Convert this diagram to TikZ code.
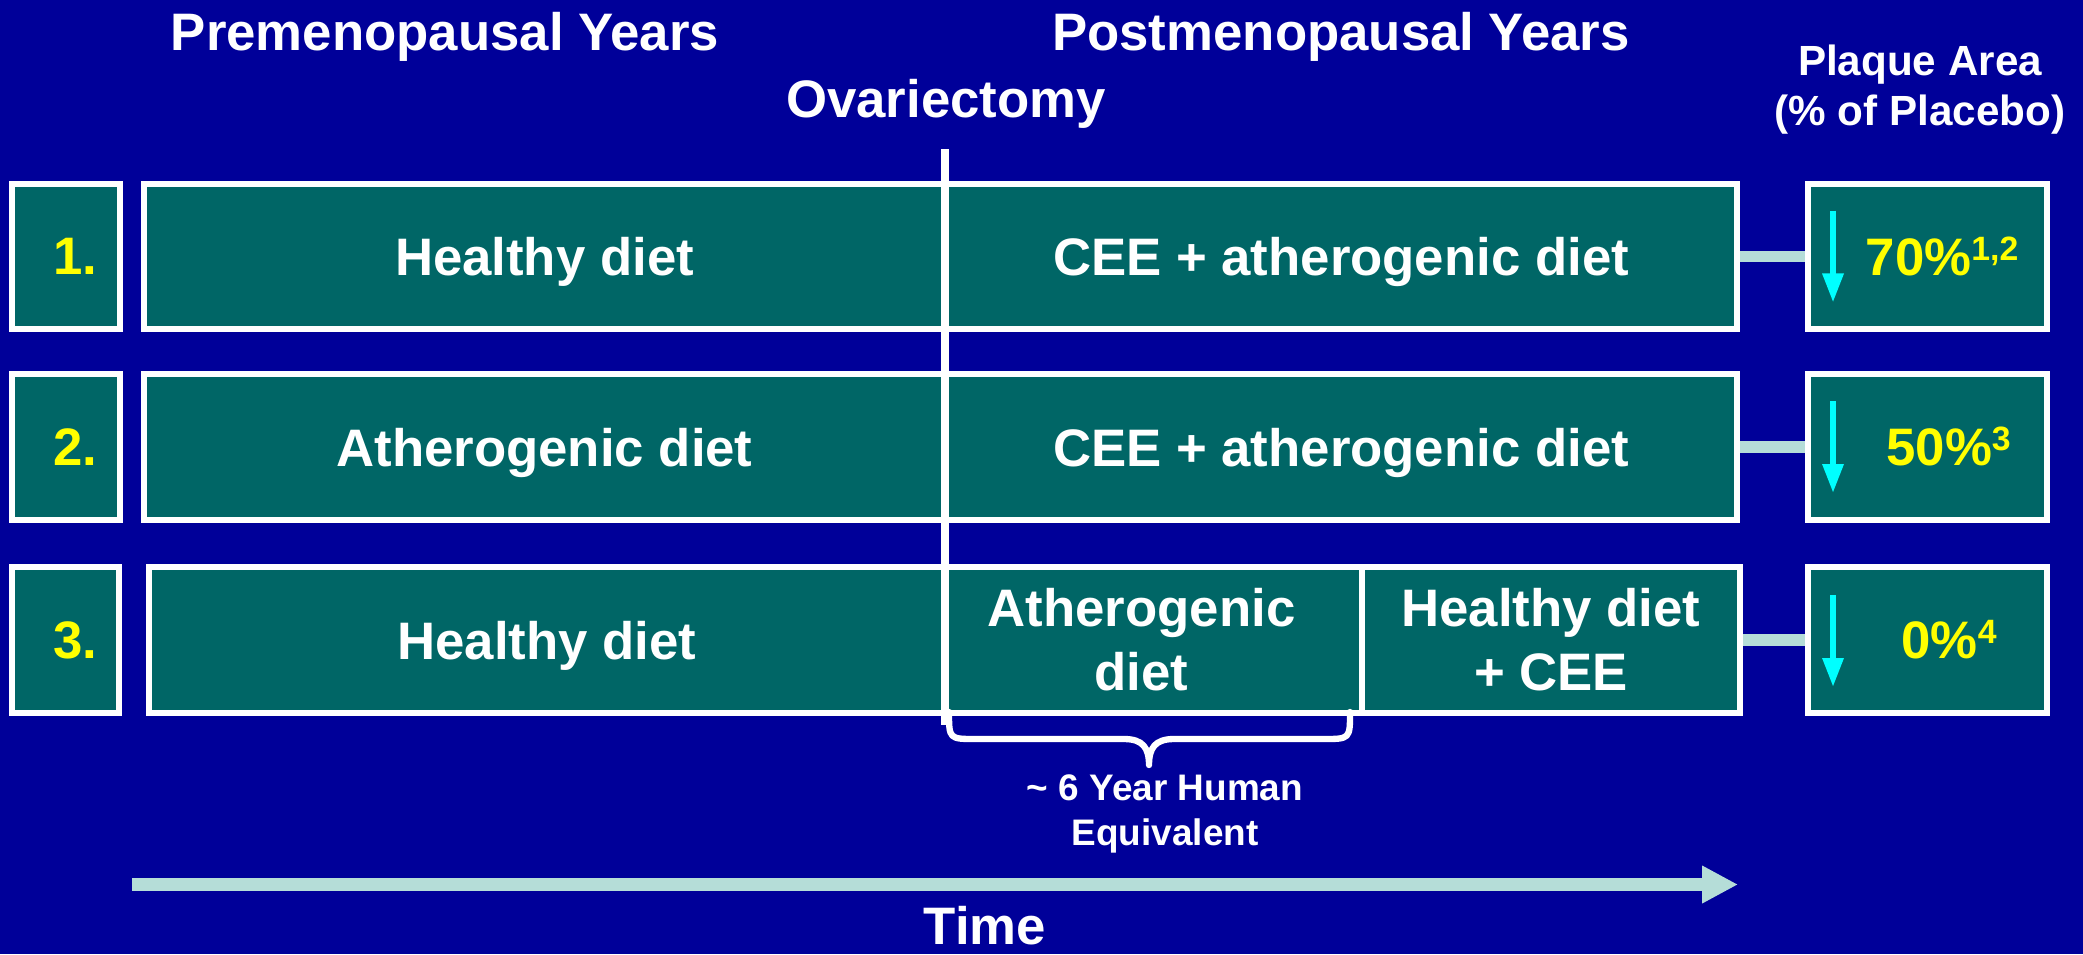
\documentclass[tikz,border=0pt]{standalone}
\usepackage{fontspec}
\setmainfont{Liberation Sans}
\usetikzlibrary{arrows.meta,calc}
\definecolor{bgblue}{RGB}{0,0,153}
\definecolor{cellteal}{RGB}{0,102,102}
\definecolor{lightc}{RGB}{181,221,216}
\definecolor{cyanc}{RGB}{0,255,255}
\definecolor{yellowc}{RGB}{255,255,0}
\newcommand\supnum[1]{\raisebox{4.3pt}{\fontsize{9.6}{10}\selectfont #1}}
\begin{document}
\begin{tikzpicture}[x=0.01cm,y=-0.01cm,
  cell/.style={draw=white, line width=1.71pt, fill=cellteal, inner sep=0pt,
    minimum height=1.45cm, text=white, font=\fontsize{15}{18.2}\selectfont\bfseries, align=center},
  onecell/.style={cell, text depth=0pt},
  numbox/.style={cell, minimum width=1.08cm},
  resbox/.style={cell, minimum width=2.39cm},
  numtxt/.style={text=yellowc, font=\fontsize{15}{18}\selectfont\bfseries, inner sep=0pt, text depth=0pt},
  valtxt/.style={text=yellowc, font=\fontsize{15}{18}\selectfont\bfseries, inner sep=0pt, text depth=0pt, text height=10.7pt},
  head/.style={text=white, font=\fontsize{15}{18}\selectfont\bfseries, inner sep=0pt, anchor=base},
  conn/.style={draw=lightc, line width=3.3pt},
  downarrow/.style={draw=cyanc, line width=1.7pt, -{Triangle[length=8.25pt,width=5.7pt]}},
  timearrow/.style={draw=lightc, line width=3.6pt, -{Triangle[length=10.2pt,width=10pt]}},
  ovline/.style={draw=white, line width=2.28pt},
  bracestyle/.style={draw=white, line width=1.8pt, line cap=round, line join=round}
]
\useasboundingbox (0,0) rectangle (2083,954);
\fill[bgblue] (0,0) rectangle (2083,954);

% headings
\node[head] (pre) at (445,50) {Premenopausal Years};
\node[head] (post) at (1341,50) {Postmenopausal Years};
\node[head] (ov) at (946,117) {Ovariectomy};
\node[text=white, font=\fontsize{12}{14.2}\selectfont\bfseries, align=center, inner sep=0pt] (plaque) at (1920,90) {Plaque Area\\(\% of Placebo)};

% row 1
\node[numbox] (n1) at (66,256.5) {};
\node[numtxt] (l1) at (75,256.5) {1.};
\node[onecell, minimum width=8.01cm] (r1a) at (544.5,256.5) {Healthy diet};
\node[onecell, minimum width=7.92cm] (r1b) at (1341,256.5) {CEE + atherogenic diet};
\node[resbox] (res1) at (1927.5,256.5) {};

% row 2
\node[numbox] (n2) at (66,447) {};
\node[numtxt] (l2) at (75,447) {2.};
\node[onecell, minimum width=8.01cm] (r2a) at (544.5,447) {Atherogenic diet};
\node[onecell, minimum width=7.92cm] (r2b) at (1341,447) {CEE + atherogenic diet};
\node[resbox] (res2) at (1927.5,447) {};

% row 3
\node[numbox, minimum width=1.07cm] (n3) at (65.5,640) {};
\node[numtxt] (l3) at (75,640) {3.};
\node[onecell, minimum width=7.96cm] (r3a) at (547,640) {Healthy diet};
\node[cell, minimum width=4.17cm] (r3b) at (1153.5,640) {Atherogenic\hspace*{0.24cm}\\diet\hspace*{0.24cm}};
\node[cell, minimum width=3.78cm] (r3c) at (1551,640) {Healthy diet\\+ CEE};
\node[resbox] (res3) at (1927.5,640) {};

% connectors
\draw[conn] (r1b.east) -- (res1.west);
\draw[conn] (r2b.east) -- (res2.west);
\draw[conn] (r3c.east) -- (res3.west);

% values
\draw[downarrow] ($(res1.center)+(-94.5,-46)$) -- ($(res1.center)+(-94.5,46)$);
\draw[downarrow] ($(res2.center)+(-94.5,-46)$) -- ($(res2.center)+(-94.5,46)$);
\draw[downarrow] ($(res3.center)+(-94.5,-45)$) -- ($(res3.center)+(-94.5,47)$);
\node[valtxt] (v1) at (1942,256.5) {70\%\supnum{1,2}};
\node[valtxt] (v2) at (1948.5,447) {50\%\supnum{3}};
\node[valtxt] (v3) at (1949,640) {0\%\supnum{4}};

% ovariectomy line
\coordinate (ovtop) at (945,149);
\coordinate (ovbot) at (945,725);
\draw[ovline] (ovtop) -- (ovbot);

% brace
\draw[bracestyle] (949,712) .. controls (949,739) .. (976,739) -- (1124,739)
  .. controls (1143,739) and (1149,748) .. (1149,765)
  .. controls (1149,748) and (1155,739) .. (1174,739) -- (1323,739)
  .. controls (1350,739) .. (1350,712);
\node[text=white, font=\fontsize{10.5}{12.8}\selectfont\bfseries, align=center, inner sep=0pt] (equiv) at (1165,814) {\textasciitilde\ 6 Year Human\\Equivalent};

% time arrow
\coordinate (tstart) at (132,884.5);
\coordinate (tend) at (1738,884.5);
\draw[timearrow] (tstart) -- (tend);
\node[head] (time) at (985,944) {Time};
\end{tikzpicture}
\end{document}
